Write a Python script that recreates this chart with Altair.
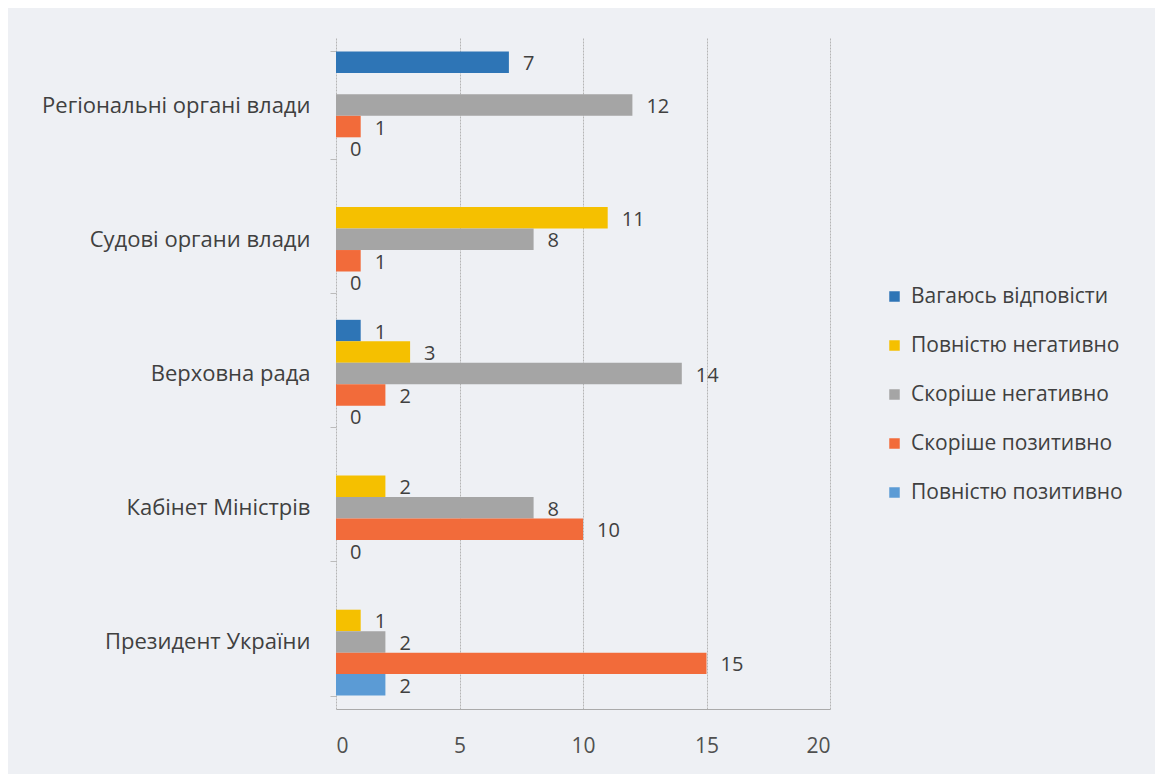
import altair as alt
import pandas as pd

categories = ["Регіональні органі влади", "Судові органи влади", "Верховна рада",
              "Кабінет Міністрів", "Президент України"]
series = ["Вагаюсь відповісти", "Повністю негативно", "Скоріше негативно",
          "Скоріше позитивно", "Повністю позитивно"]
colors = ["#2e75b6", "#f5c000", "#a5a5a5", "#f26b3a", "#5b9bd5"]

# values per series, in the order of categories (None = no bar)
v_vagayus = [7, None, 1, None, None]
v_povn_neg = [None, 11, 3, 2, 1]
v_skor_neg = [12, 8, 14, 8, 2]
v_skor_poz = [1, 1, 2, 10, 15]
v_povn_poz = [0, 0, 0, 0, 2]

all_vals = [v_vagayus, v_povn_neg, v_skor_neg, v_skor_poz, v_povn_poz]
rows = []
for s, vals in zip(series, all_vals):
    for c, v in zip(categories, vals):
        if v is not None:
            rows.append({"cat": c, "series": s, "value": v})
df = pd.DataFrame(rows)

FONT = "Open Sans"

y = alt.Y("cat:N", sort=categories, title=None,
          scale=alt.Scale(paddingInner=0.2, paddingOuter=0.1),
          axis=alt.Axis(tickBand="extent", labelFontSize=22, labelColor="#404040",
                        labelPadding=20, tickSize=6, tickColor="#bbbbbb", labelLimit=0,
                        domain=False, grid=False, labelFont=FONT))
yoff = alt.YOffset("series:N", sort=series, scale=alt.Scale(domain=series, paddingInner=0, paddingOuter=0))

bars = alt.Chart(df).mark_bar().encode(
    x=alt.X("value:Q", scale=alt.Scale(domain=[0, 20]), title=None,
            axis=alt.Axis(values=[0, 5, 10, 15, 20], labelFontSize=21, labelColor="#505050",
                          labelPadding=26, ticks=False, domainColor="#aaaaaa",
                          gridColor="#b5b5b5", gridDash=[2, 1], labelFont=FONT)),
    y=y,
    yOffset=yoff,
    color=alt.Color("series:N", sort=series,
                    scale=alt.Scale(domain=series, range=colors),
                    legend=alt.Legend(title=None, orient="none", legendX=548, legendY=248,
                                      symbolType="square", symbolSize=110, labelFontSize=21,
                                      labelColor="#404040", rowPadding=27, labelFont=FONT,
                                      symbolStrokeWidth=0, labelOffset=6, labelLimit=0)),
)

labels = alt.Chart(df).mark_text(align="left", baseline="middle", dx=14, dy=2,
                                 fontSize=20, color="#404040", font=FONT).encode(
    x="value:Q",
    y=alt.Y("cat:N", sort=categories),
    yOffset=alt.YOffset("series:N", sort=series),
    text="value:Q",
)

chart = (bars + labels).properties(
    width=494, height=671,
    background="#eef0f4",
    padding={"left": 328, "top": 30, "right": 325, "bottom": 65},
    autosize=alt.AutoSizeParams(type="none"),
).configure_view(stroke=None)

chart.save("out.html", embed_options={"renderer": "svg", "actions": False})
